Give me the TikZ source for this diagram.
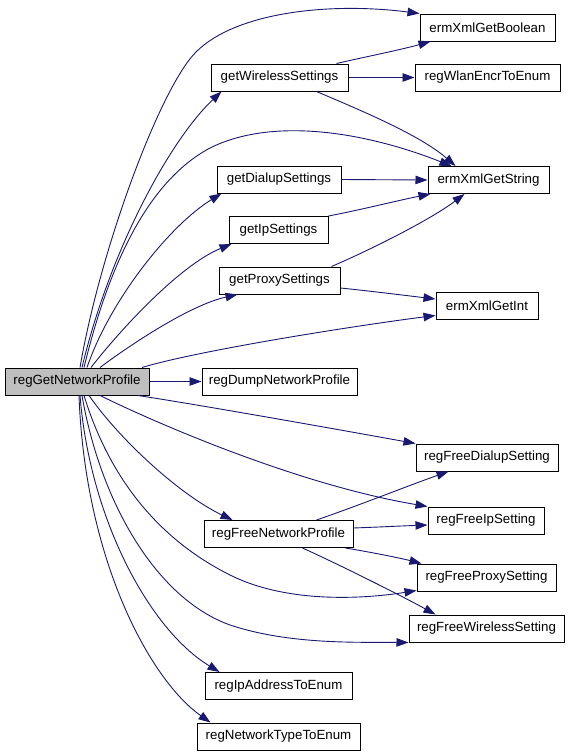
\documentclass[tikz,border=0pt]{standalone}
\usepackage{fontspec}
\setmainfont{Liberation Sans}
\usetikzlibrary{arrows.meta}
\definecolor{edgeblue}{RGB}{25,25,112}
\definecolor{rootgray}{RGB}{191,191,191}
\begin{document}
\begin{tikzpicture}[x=1pt,y=-1pt,
  every node/.style={font=\fontsize{13.3}{16}\selectfont},
  fn/.style={draw,fill=white,line width=1pt,minimum height=27pt,inner sep=0pt},
  call/.style={draw=edgeblue,line width=0.9pt,-{Triangle[length=12pt,width=8.5pt,fill=edgeblue]}}]
\useasboundingbox (0,0) rectangle (571,755);
\node[fn,fill=rootgray,minimum width=144pt] (root) at (77,381.5) {regGetNetworkProfile};
\node[fn,minimum width=135pt] (bool) at (487.5,27.5) {ermXmlGetBoolean};
\node[fn,minimum width=137pt] (wls) at (279.5,77.5) {getWirelessSettings};
\node[fn,minimum width=145pt] (wlan) at (487.5,77.5) {regWlanEncrToEnum};
\node[fn,minimum width=121pt] (str) at (488.5,180) {ermXmlGetString};
\node[fn,minimum width=124pt] (dial) at (279,179.5) {getDialupSettings};
\node[fn,minimum width=99pt] (ip) at (278.5,230) {getIpSettings};
\node[fn,minimum width=121pt] (proxy) at (279.5,280.5) {getProxySettings};
\node[fn,minimum width=102pt] (int) at (487,305.5) {ermXmlGetInt};
\node[fn,minimum width=155pt] (dump) at (279.5,381.5) {regDumpNetworkProfile};
\node[fn,minimum width=142pt] (fdial) at (487,457.5) {regFreeDialupSetting};
\node[fn,minimum width=116pt] (fip) at (486,520.5) {regFreeIpSetting};
\node[fn,minimum width=149pt] (fnet) at (278.5,534) {regFreeNetworkProfile};
\node[fn,minimum width=139pt] (fproxy) at (486.5,577.5) {regFreeProxySetting};
\node[fn,minimum width=155pt] (fwls) at (486.5,628.5) {regFreeWirelessSetting};
\node[fn,minimum width=147pt] (ipaddr) at (278.5,686) {regIpAddressToEnum};
\node[fn,minimum width=163pt] (ntype) at (278.5,736.5) {regNetworkTypeToEnum};
\draw[call] ([xshift=3pt]root.north) .. controls (100,250) and (160,88) .. (196,52) .. controls (236,12) and (330,2) .. (bool.north west);
\draw[call] ([xshift=5pt]root.north) .. controls (110,250) and (170,140) .. ([xshift=11pt]wls.south west);
\draw[call] ([xshift=7pt]root.north) .. controls (110,260) and (150,180) .. (210,148) .. controls (270,118) and (360,130) .. ([xshift=24pt]str.north west);
\draw[call] ([xshift=10pt]root.north) .. controls (110,300) and (170,225) .. ([xshift=5pt]dial.south west);
\draw[call] ([xshift=14pt]root.north) .. controls (120,330) and (180,265) .. ([xshift=3pt]ip.south west);
\draw[call] ([xshift=23pt]root.north) .. controls (130,345) and (190,305) .. ([xshift=19pt]proxy.south west);
\draw[call] ([xshift=65pt]root.north) .. controls (200,350) and (360,325) .. ([yshift=4pt]int.south west);
\draw[call] (root.east) -- (dump.west);
\draw[call] ([xshift=61pt]root.south) .. controls (200,405) and (330,428) .. (fdial.north west);
\draw[call] ([xshift=23pt]root.south) .. controls (160,425) and (300,485) .. (fip.north west);
\draw[call] ([xshift=12pt]root.south) .. controls (120,440) and (180,495) .. ([xshift=29pt]fnet.north west);
\draw[call] ([xshift=7pt]root.south) .. controls (110,480) and (160,540) .. (230,575) .. controls (290,605) and (370,598) .. ([yshift=1pt]fproxy.south west);
\draw[call] ([xshift=5pt]root.south) .. controls (100,500) and (155,598) .. (230,625) .. controls (290,645) and (360,642) .. (fwls.south west);
\draw[call] ([xshift=3pt]root.south) .. controls (90,520) and (150,630) .. ([xshift=15pt]ipaddr.north west);
\draw[call] ([xshift=2pt]root.south) .. controls (85,560) and (150,680) .. ([xshift=14pt]ntype.north west);
\draw[call] ([xshift=-12pt]wls.north east) .. controls (360,58) and (400,50) .. ([xshift=11pt]bool.south west);
\draw[call] (wls.east) -- (wlan.west);
\draw[call] ([xshift=-32pt]wls.south east) .. controls (360,110) and (420,135) .. ([xshift=28pt]str.north west);
\draw[call] (dial.east) -- (str.west);
\draw[call] (ip.north east) .. controls (360,210) and (400,200) .. ([xshift=3pt]str.south west);
\draw[call] ([xshift=-9pt]proxy.north east) .. controls (370,250) and (430,220) .. ([xshift=37pt]str.south west);
\draw[call] ([yshift=-7.5pt]proxy.east) .. controls (370,291) and (410,296) .. ([yshift=6.5pt]int.west);
\draw[call] ([xshift=-37pt]fnet.north east) .. controls (360,505) and (410,485) .. ([xshift=33pt]fdial.south west);
\draw[call] ([yshift=6pt]fnet.east) .. controls (380,527) and (400,526) .. ([yshift=-4.5pt]fip.west);
\draw[call] ([xshift=-8pt]fnet.south east) .. controls (370,552) and (400,558) .. ([xshift=5pt]fproxy.north west);
\draw[call] ([xshift=-51pt]fnet.south east) .. controls (340,565) and (400,595) .. ([xshift=27pt]fwls.north west);
\end{tikzpicture}
\end{document}
